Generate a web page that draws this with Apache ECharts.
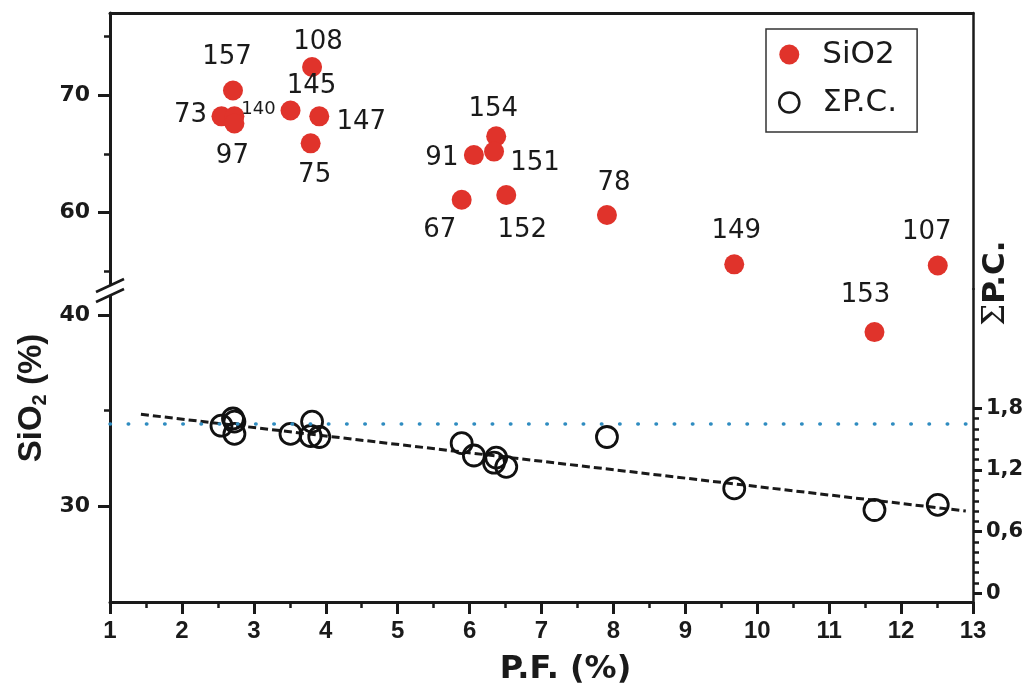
<!DOCTYPE html>
<html>
<head>
<meta charset="utf-8">
<script src="https://cdn.jsdelivr.net/npm/echarts@6/dist/echarts.min.js"></script>
<style>html,body{margin:0;padding:0;background:#fff}#c{width:1029px;height:695px}</style>
</head>
<body>
<div id="c"></div>
<script>
// ---- data ----
const sampleIds  = ['157','73','140','97','145','108','147','75','67','91','154','151','152','78','149','153','107'];
const lossOnFire = [2.71, 2.55, 2.73, 2.73, 3.51, 3.81, 3.91, 3.79, 5.89, 6.06, 6.37, 6.34, 6.51, 7.91, 9.68, 11.63, 12.51];
const sio2       = [70.4, 68.2, 68.2, 67.6, 68.7, 72.4, 68.2, 65.9, 61.1, 64.9, 66.5, 65.2, 61.5, 59.8, 55.6, 39.1, 55.5];
const sumPC      = [1.70, 1.63, 1.67, 1.55, 1.55, 1.67, 1.52, 1.53, 1.46, 1.34, 1.32, 1.27, 1.23, 1.52, 1.02, 0.81, 0.86];
const trendX     = [1.43, 12.9];
const trendPC    = [1.741, 0.80];
const pcReference = 1.654;
const xTicks      = [1,2,3,4,5,6,7,8,9,10,11,12,13];
const upperTicks  = [60, 70];
const upperMinor  = [55, 65, 75];
const lowerTicks  = [30, 40];
const lowerMinor  = [35];
const pcTicks     = [0, 0.6, 1.2, 1.8];

// ---- styling / layout (not data) ----
const UPPER_MIN = 53.5, UPPER_MAX = 77, LOWER_MIN = 25, LOWER_MAX = 41.35, PC_MIN = -0.085, PC_MAX = 2.96;
const ink = '#1a1a1a', red = '#e0332b';
const labelNudge = {
  '157':[-6,-33], '108':[6,-25], '145':[21,-24], '73':[-31,-1], '140':[24,-7], '97':[-2,33],
  '147':[42,6], '75':[4,32], '154':[-3,-27], '91':[-32,3], '151':[41,12], '67':[-22,31],
  '152':[16,35], '78':[7,-32], '149':[2,-33], '107':[-11,-33], '153':[-9,-37]
};
const labelSize = {'140': 18};

const pcMinor = [];
for (let k = 1; k < 18; k++) { if (k % 6 !== 0) pcMinor.push(k / 10); }

const upperPts = [], lowerPts = [], pcPts = [];
sampleIds.forEach((id, i) => {
  const pt = {
    name: id,
    value: [lossOnFire[i], sio2[i]],
    label: { offset: labelNudge[id] || [0, -30], fontSize: labelSize[id] || 26 }
  };
  (sio2[i] >= UPPER_MIN ? upperPts : lowerPts).push(pt);
  pcPts.push({ name: id, value: [lossOnFire[i], sumPC[i]] });
});

const tickFont = { fontFamily: 'DejaVu Sans', fontWeight: 'bold', color: ink };
function hiddenAxisParts() { return { axisLabel: { show: false }, splitLine: { show: false } }; }

const sio2Label = {
  show: true, position: 'inside', formatter: p => p.name, opacity: 1,
  fontFamily: 'DejaVu Sans', fontSize: 26, color: ink
};

const chart = echarts.init(document.getElementById('c'), null, { renderer: 'canvas' });
chart.setOption({
  animation: false,
  backgroundColor: '#fff',
  grid: [
    { left: 110, right: 56, top: 13, height: 276 },
    { left: 110, right: 56, top: 289, height: 313 }
  ],
  xAxis: [
    { gridIndex: 0, type: 'value', min: 1, max: 13, position: 'top',
      axisLine: { show: true, onZero: false, lineStyle: { color: ink, width: 3 } },
      axisTick: { show: false }, ...hiddenAxisParts() },
    { gridIndex: 1, type: 'value', min: 1, max: 13, interval: 1, position: 'bottom',
      axisLine: { show: true, onZero: false, lineStyle: { color: ink, width: 3 } },
      axisTick: { show: true, length: 12, lineStyle: { color: ink, width: 3 } },
      minorTick: { show: true, splitNumber: 2, length: 6, lineStyle: { color: ink, width: 2.5 } },
      axisLabel: { fontFamily: 'Liberation Sans', fontWeight: 'bold', fontSize: 24, color: ink, margin: 17,
                   customValues: xTicks },
      splitLine: { show: false },
      name: 'P.F. (%)', nameLocation: 'middle', nameGap: 52,
      nameTextStyle: { fontFamily: 'DejaVu Sans', fontWeight: 'bold', fontSize: 32, color: ink, padding: [0, 0, 0, 48] } }
  ],
  yAxis: [
    // 0: upper SiO2 (left)
    { gridIndex: 0, type: 'value', position: 'left', min: UPPER_MIN, max: UPPER_MAX,
      axisLine: { show: true, onZero: false, lineStyle: { color: ink, width: 3 } },
      axisTick: { show: true, customValues: upperTicks, length: 12, lineStyle: { color: ink, width: 3 } },
      axisLabel: { customValues: upperTicks, fontSize: 22, margin: 20, ...tickFont },
      splitLine: { show: false } },
    // 1: lower SiO2 (left)
    { gridIndex: 1, type: 'value', position: 'left', min: LOWER_MIN, max: LOWER_MAX,
      axisLine: { show: true, onZero: false, lineStyle: { color: ink, width: 3 } },
      axisTick: { show: true, customValues: lowerTicks, length: 12, lineStyle: { color: ink, width: 3 } },
      axisLabel: { customValues: lowerTicks, fontSize: 22, margin: 20, ...tickFont },
      splitLine: { show: false } },
    // 2: ΣP.C. (right)
    { gridIndex: 1, type: 'value', position: 'right', min: PC_MIN, max: PC_MAX,
      axisLine: { show: true, onZero: false, lineStyle: { color: ink, width: 2.5 } },
      axisTick: { show: true, customValues: pcTicks, length: 9, lineStyle: { color: ink, width: 3 } },
      axisLabel: { customValues: pcTicks, fontSize: 21, margin: 13, ...tickFont,
                   formatter: v => String(v).replace('.', ',') },
      splitLine: { show: false } },
    // 3: upper minor ticks
    { gridIndex: 0, type: 'value', position: 'left', min: UPPER_MIN, max: UPPER_MAX,
      axisLine: { show: false, onZero: false },
      axisTick: { show: true, customValues: upperMinor, length: 6, lineStyle: { color: ink, width: 2.5 } },
      ...hiddenAxisParts() },
    // 4: lower minor ticks
    { gridIndex: 1, type: 'value', position: 'left', min: LOWER_MIN, max: LOWER_MAX,
      axisLine: { show: false, onZero: false },
      axisTick: { show: true, customValues: lowerMinor, length: 6, lineStyle: { color: ink, width: 2.5 } },
      ...hiddenAxisParts() },
    // 5: ΣP.C. minor ticks
    { gridIndex: 1, type: 'value', position: 'right', min: PC_MIN, max: PC_MAX,
      axisLine: { show: false, onZero: false },
      axisTick: { show: true, customValues: pcMinor, length: 6, lineStyle: { color: ink, width: 2.5 } },
      ...hiddenAxisParts() },
    // 6: upper right frame
    { gridIndex: 0, type: 'value', position: 'right', min: 0, max: 1,
      axisLine: { show: true, onZero: false, lineStyle: { color: ink, width: 2.5 } },
      axisTick: { show: false }, ...hiddenAxisParts() }
  ],
  legend: {
    left: 766, top: 29, orient: 'vertical', selectedMode: false,
    data: [
      { name: 'SiO2', icon: 'circle', itemStyle: { color: red, opacity: 1 } },
      { name: 'ΣP.C.', icon: 'circle', itemStyle: { color: 'rgba(0,0,0,0)', borderColor: ink, borderWidth: 2.6, opacity: 1 } }
    ],
    itemWidth: 20, itemHeight: 20, itemGap: 17,
    padding: [10, 20, 14, 12],
    borderColor: '#333', borderWidth: 1.5,
    textStyle: { fontFamily: 'DejaVu Sans', fontSize: 31, color: ink, padding: [0, 0, 0, 18] }
  },
  series: [
    { name: 'SiO2', type: 'scatter', xAxisIndex: 0, yAxisIndex: 0, data: upperPts,
      symbol: 'circle', symbolSize: 20, itemStyle: { color: red, opacity: 1 }, label: sio2Label, z: 4 },
    { name: 'SiO2', type: 'scatter', xAxisIndex: 1, yAxisIndex: 1, data: lowerPts,
      symbol: 'circle', symbolSize: 20, itemStyle: { color: red, opacity: 1 }, label: sio2Label, z: 4 },
    { name: 'trend', type: 'line', xAxisIndex: 1, yAxisIndex: 2,
      data: trendX.map((x, i) => [x, trendPC[i]]),
      symbol: 'none', silent: true, z: 2,
      lineStyle: { color: ink, width: 3, type: [8, 4], opacity: 1 },
      markLine: { silent: true, symbol: ['none', 'none'], label: { show: false },
        lineStyle: { color: '#2f8cc0', width: 3.5, type: [0.5, 17.7], cap: 'round', opacity: 1 },
        data: [{ yAxis: pcReference }] } },
    { name: 'ΣP.C.', type: 'scatter', xAxisIndex: 1, yAxisIndex: 2, data: pcPts,
      symbol: 'circle', symbolSize: 21, z: 3,
      itemStyle: { color: 'rgba(0,0,0,0)', borderColor: '#111', borderWidth: 2.8, opacity: 1 } }
  ],
  graphic: [
    { type: 'polygon', z: 100, shape: { points: [[96, 292], [124, 279], [124, 289], [96, 302]] },
      style: { fill: '#fff' } },
    { type: 'line', z: 101, shape: { x1: 96, y1: 292, x2: 124, y2: 279 }, style: { stroke: ink, lineWidth: 2.5 } },
    { type: 'line', z: 101, shape: { x1: 96, y1: 302, x2: 124, y2: 289 }, style: { stroke: ink, lineWidth: 2.5 } },
    { type: 'text', z: 100, x: 32, y: 398, rotation: Math.PI / 2,
      style: { text: '{a|SiO}{s|2}{a| (%)}', align: 'center', verticalAlign: 'middle',
        rich: { a: { fontFamily: 'Liberation Sans', fontWeight: 'bold', fontSize: 33, fill: ink, lineHeight: 36 },
                s: { fontFamily: 'Liberation Sans', fontWeight: 'bold', fontSize: 20, fill: ink, lineHeight: 20, verticalAlign: 'bottom' } } } },
    { type: 'text', z: 100, x: 996, y: 283, rotation: Math.PI / 2,
      style: { text: '{s|Σ}{b|P.C.}', align: 'center', verticalAlign: 'middle',
        rich: { s: { fontFamily: 'DejaVu Serif', fontSize: 31, fill: ink },
                b: { fontFamily: 'DejaVu Sans', fontWeight: 'bold', fontSize: 31, fill: ink } } } }
  ]
});
</script>
</body>
</html>
